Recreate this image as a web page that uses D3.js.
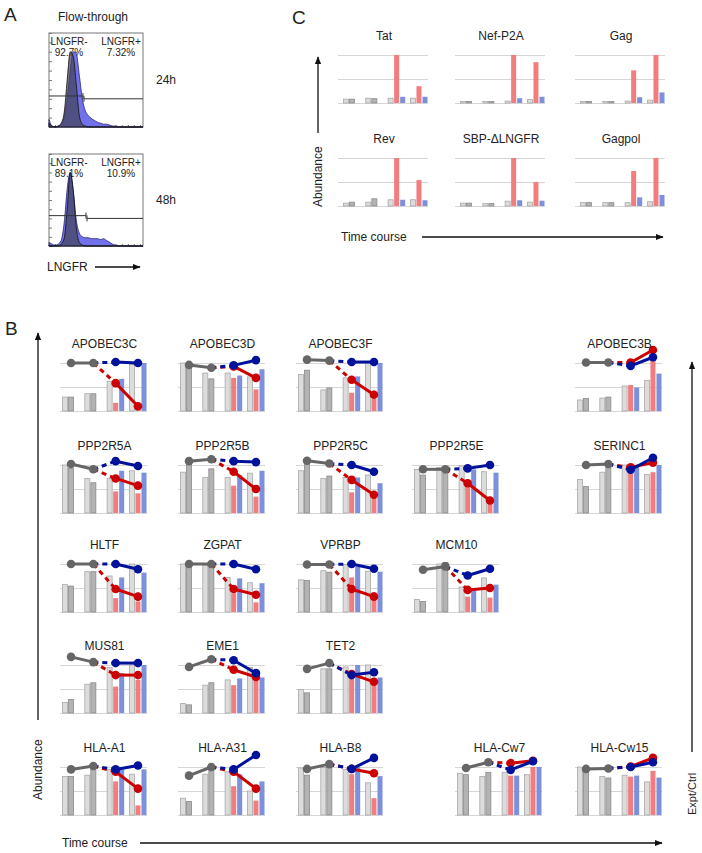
<!DOCTYPE html>
<html>
<head>
<meta charset="utf-8">
<script src="https://d3js.org/d3.v7.min.js"></script>
<style>
  body { margin: 0; background: #fff; }
  svg text { font-family: Arial, "Liberation Sans", sans-serif; fill: #222; }
</style>
</head>
<body>
<svg id="fig" width="702" height="853"></svg>
<script>
// ---------- panel A: flow histograms (relative counts per bin) ----------
const gray24 = [0.04,0.01,0,0.01,0.04,0.15,0.5,0.8,0.75,0.45,0.12,0.03,0.01,0,0,0,0,0,0,0,0,0,0,0,0,0,0,0,0,0,0,0];
const blue24 = [0.08,0.01,0,0.01,0.03,0.1,0.3,0.6,0.8,0.78,0.55,0.3,0.17,0.12,0.09,0.07,0.05,0.04,0.03,0.03,0.02,0.01,0.01,0,0,0,0,0,0,0,0,0];
const gray48 = [0.01,0,0,0,0.02,0.08,0.4,0.8,0.6,0.2,0.04,0.01,0,0,0,0,0,0,0,0,0,0,0,0,0,0,0,0,0,0,0,0];
const blue48 = [0.04,0.02,0.01,0.02,0.06,0.25,0.62,0.8,0.6,0.28,0.14,0.1,0.09,0.09,0.08,0.08,0.08,0.07,0.08,0.06,0.04,0.02,0.01,0,0,0,0,0,0,0,0,0];
const gates = [11.2, 12.2];          // gate boundary, in bin units
const timeLabels = ["24h", "48h"];
const negPct = ["92.7%", "89.1%"];
const posPct = ["7.32%", "10.9%"];

// ---------- panel C: viral proteins ----------
const cGenes = ["Tat", "Nef-P2A", "Gag", "Rev", "SBP-\u0394LNGFR", "Gagpol"];
// time points 1,2: [light, dark, light, dark]
const cCtrl = [
  [0.08,0.08,0.1,0.09],
  [0.03,0.03,0.03,0.03],
  [0.03,0.03,0.03,0.03],
  [0.06,0.08,0.08,0.15],
  [0.06,0.06,0.05,0.05],
  [0.07,0.07,0.07,0.07]
];
// time points 3,4: [light, red, blue, light, red, blue]
const cExp = [
  [0.1,1.0,0.13, 0.1,0.35,0.13],
  [0.04,1.0,0.1, 0.07,0.85,0.13],
  [0.04,0.68,0.12, 0.06,1.0,0.22],
  [0.13,1.0,0.13, 0.13,0.54,0.12],
  [0.1,1.0,0.12, 0.08,0.5,0.11],
  [0.07,0.73,0.18, 0.09,1.0,0.23]
];

// ---------- panel B: host proteins ----------
const bGenes = ["APOBEC3C","APOBEC3D","APOBEC3F","APOBEC3B",
  "PPP2R5A","PPP2R5B","PPP2R5C","PPP2R5E","SERINC1",
  "HLTF","ZGPAT","VPRBP","MCM10",
  "MUS81","EME1","TET2",
  "HLA-A1","HLA-A31","HLA-B8","HLA-Cw7","HLA-Cw15"];
const bCtrl = [
  [0.29,0.29,0.36,0.36],[1.0,0.95,0.79,0.67],[0.76,0.85,0.44,0.48],[0.23,0.26,0.27,0.29],
  [1.0,0.93,0.72,0.63],[0.85,1.08,0.74,0.92],[0.88,1.03,0.72,0.77],[0.91,0.79,0.95,0.83],[0.7,0.55,0.85,0.95],
  [0.57,0.54,0.84,0.84],[1.0,1.0,0.98,0.93],[0.67,0.66,0.86,0.83],[0.26,0.22,1.0,1.03],
  [0.22,0.28,0.6,0.63],[0.2,0.17,0.58,0.63],[0.49,0.42,0.92,0.92],
  [0.8,0.8,0.83,1.0],[0.35,0.28,0.85,1.0],[0.98,0.83,0.99,0.99],[0.87,0.84,0.8,0.89],[1.0,0.98,0.8,0.77]
];
const bExp = [
  [0.62,0.17,0.67, 0.97,0.08,1.0],[0.79,0.69,0.74, 0.71,0.45,0.87],[0.69,0.38,0.72, 1.0,0.25,1.0],[0.52,0.54,0.49, 0.64,1.1,0.78],
  [0.72,0.45,0.88, 0.88,0.41,0.84],[0.74,0.57,0.79, 0.83,0.34,0.88],[0.74,0.43,0.74, 0.79,0.31,0.62],[0.98,0.66,0.91, 0.86,0.21,0.84],[1.0,1.0,1.0, 0.8,0.85,1.0],
  [0.75,0.29,0.72, 1.0,0.22,0.82],[0.72,0.39,0.7, 0.61,0.2,0.6],[0.99,0.72,0.94, 0.85,0.41,0.84],[0.52,0.32,0.45, 0.71,0.3,0.57],
  [0.95,0.55,0.83, 1.0,0.69,1.0],[0.69,0.58,0.72, 0.95,0.72,0.74],[0.96,0.77,1.0, 1.0,0.64,0.74],
  [0.95,0.7,0.95, 0.85,0.2,0.95],[0.9,0.6,0.85, 0.5,0.3,0.7],[0.95,0.85,1.0, 0.67,0.35,0.81],[0.89,0.82,0.82, 0.84,1.0,1.0],[0.83,0.8,0.82, 0.69,0.92,0.78]
];
// Expt/Ctrl ratios
const bRatioGray = [[1.0,1.0],[0.96,0.9],[1.07,1.05],[1.01,1.01],[1.02,0.91],[1.08,1.12],[1.09,1.03],[0.91,0.91],[1.0,1.02],
  [1.0,1.0],[1.0,1.0],[0.99,0.99],[0.88,0.95],[1.17,1.06],[0.96,1.12],[0.92,1.04],[0.95,1.02],[0.82,1.0],[0.96,1.06],[0.98,1.1],[0.96,0.97]];
const bRatioRed = [[0.58,0.1],[0.93,0.69],[0.65,0.34],[1.01,1.27],[0.72,0.57],[0.86,0.5],[0.69,0.38],[0.62,0.26],[0.95,1.05],
  [0.48,0.32],[0.48,0.36],[0.48,0.32],[0.46,0.5],[0.79,0.79],[0.9,0.75],[0.81,0.65],[0.9,0.55],[0.9,0.55],[0.96,0.87],[1.08,1.13],[1.01,1.19]];
const bRatioBlue = [[1.02,1.0],[0.95,1.06],[1.02,1.02],[0.94,1.12],[1.08,0.98],[1.08,1.06],[1.0,0.86],[0.93,1.0],[0.9,1.15],
  [1.0,0.89],[1.0,0.89],[1.0,0.9],[0.76,0.9],[1.04,1.04],[1.1,0.83],[0.79,0.85],[0.95,1.03],[0.95,1.25],[0.96,1.19],[0.94,1.12],[1.0,1.1]];

// ---------- layout ----------
const bRowTop = [363, 465, 564, 665, 767];
const bSlots = [[0,62],[0,180],[0,298],[0,577],
  [1,62],[1,180],[1,298],[1,414],[1,577],
  [2,62],[2,180],[2,298],[2,414],
  [3,62],[3,180],[3,298],
  [4,62],[4,180],[4,298],[4,457],[4,577]];
const cSlots = [[55,340],[55,457],[55,577],[158,340],[158,457],[158,577]];

const col = {light:"#dcdcdc", lightS:"#a8a8a8", dark:"#b3b3b3", darkS:"#8a8a8a",
  red:"#f27d7f", blue:"#7d90dc", lineGray:"#666666", lineRed:"#cc0000", lineBlue:"#00119a", grid:"#d6d6d6"};

const svg = d3.select("#fig");
const defs = svg.append("defs");
defs.append("marker").attr("id","arr").attr("viewBox","0 0 10 10")
  .attr("refX",9).attr("refY",5).attr("markerWidth",6).attr("markerHeight",6)
  .attr("orient","auto").append("path").attr("d","M0,1L10,5L0,9z").attr("fill","#111");

function arrow(x1,y1,x2,y2){
  svg.append("line").attr("x1",x1).attr("y1",y1).attr("x2",x2).attr("y2",y2)
    .attr("stroke","#111").attr("stroke-width",1.3).attr("marker-end","url(#arr)");
}
function label(x,y,t,size,anchor,rot){
  const e = svg.append("text").attr("font-size",size).attr("text-anchor",anchor||"start").text(t);
  if(rot) e.attr("transform",`translate(${x},${y}) rotate(${rot})`);
  else e.attr("x",x).attr("y",y);
  return e;
}

// panel letters
label(4,21,"A",19);
label(5,335,"B",19);
label(292,24,"C",19);

// ---------- panel A ----------
label(93,21,"Flow-through",12,"middle");
const hx = d3.scaleLinear().domain([0, gray24.length-1]).range([49,143]);
[[gray24,blue24,33,127],[gray48,blue48,154,246]].forEach(([gd,bd,top,bot],k)=>{
  const hy = d3.scaleLinear().domain([0,1]).range([bot,top]);
  const g = svg.append("g");
  g.append("rect").attr("x",49).attr("y",top).attr("width",94).attr("height",bot-top)
    .attr("fill","#fff").attr("stroke","#777");
  // ticks
  const yAx = d3.axisLeft(hy).ticks(8).tickSize(-3).tickFormat("");
  g.append("g").attr("transform","translate(49,0)").call(yAx).call(s=>s.select(".domain").remove())
    .selectAll("line").attr("stroke","#777");
  const xAx = d3.axisBottom(hx).ticks(12).tickSize(-2).tickFormat("");
  g.append("g").attr("transform",`translate(0,${bot})`).call(xAx).call(s=>s.select(".domain").remove())
    .selectAll("line").attr("stroke","#777");
  // labels behind histograms
  g.append("text").attr("x",69).attr("y",top+12).attr("font-size",10).attr("text-anchor","middle").text("LNGFR-");
  g.append("text").attr("x",69).attr("y",top+23).attr("font-size",10).attr("text-anchor","middle").text(negPct[k]);
  g.append("text").attr("x",121).attr("y",top+12).attr("font-size",10).attr("text-anchor","middle").text("LNGFR+");
  g.append("text").attr("x",121).attr("y",top+23).attr("font-size",10).attr("text-anchor","middle").text(posPct[k]);
  const area = d3.area().x((d,i)=>hx(i)).y0(bot).y1(d=>hy(d)).curve(d3.curveMonotoneX);
  g.append("path").datum(bd).attr("d",area).attr("fill","#6262ea").attr("fill-opacity",0.9)
    .attr("stroke","#2a2a70").attr("stroke-width",0.8);
  g.append("path").datum(gd).attr("d",area).attr("fill","#44445a").attr("fill-opacity",0.72)
    .attr("stroke","#111").attr("stroke-width",0.8);
  // gates
  const gx = hx(gates[k]);
  const ly = hy(0.33), ry = hy(0.3);
  g.append("line").attr("x1",49).attr("x2",gx).attr("y1",ly).attr("y2",ly).attr("stroke","#333");
  g.append("line").attr("x1",gx).attr("x2",gx).attr("y1",ly-3).attr("y2",ly+3).attr("stroke","#333");
  g.append("line").attr("x1",gx+1).attr("x2",143).attr("y1",ry).attr("y2",ry).attr("stroke","#333");
  g.append("line").attr("x1",gx+1).attr("x2",gx+1).attr("y1",ry-3).attr("y2",ry+3).attr("stroke","#333");
  label(166,(top+bot)/2+4,timeLabels[k],12,"middle");
});
label(47,271,"LNGFR",12);
arrow(95,267,140,267);

// ---------- generic mini bar chart ----------
function miniChart(x0, top, w, ctrl, exp, ratios){
  const h = 48;
  const g = svg.append("g");
  const y = d3.scaleLinear().domain([0,1]).range([top+h, top]);
  const xg = d3.scaleBand().domain([0,1,2,3]).range([x0+w-85, x0+w]).paddingInner(0.19);
  const xs = d3.scaleBand().domain([0,1,2]).range([0, xg.bandwidth()]);
  // grid
  const grid = d3.axisLeft(y).tickValues([0,0.5,1]).tickSize(-(w+2)).tickFormat("");
  g.append("g").attr("transform",`translate(${x0-2},0)`).call(grid)
    .call(s=>s.select(".domain").remove())
    .selectAll("line").attr("stroke",col.grid);
  const bars = [];
  ctrl.forEach((v,i)=>bars.push({grp:Math.floor(i/2), s:i%2, v, k:i%2?"dark":"light"}));
  exp.forEach((v,i)=>bars.push({grp:2+Math.floor(i/3), s:i%3, v, k:["light","red","blue"][i%3]}));
  g.selectAll("rect.bar").data(bars).join("rect").attr("class","bar")
    .attr("x",d=>xg(d.grp)+xs(d.s)+0.5).attr("width",xs.bandwidth()-1)
    .attr("y",d=>y(d.v)).attr("height",d=>y(0)-y(d.v))
    .attr("fill",d=>col[d.k])
    .attr("stroke",d=>d.k==="light"?col.lightS:d.k==="dark"?col.darkS:"none")
    .attr("stroke-width",0.8);
  if(ratios){
    const cx = i=>xg(i)+xg.bandwidth()/2;
    const [rg, rr, rb] = ratios;
    const seg = (pts,color,dash)=>g.append("path")
      .attr("d",d3.line().x(d=>d[0]).y(d=>d[1])(pts))
      .attr("fill","none").attr("stroke",color).attr("stroke-width",3)
      .attr("stroke-dasharray",dash||null);
    seg([[cx(1),y(rg[1])],[cx(2),y(rr[0])]], col.lineRed, "5,4");
    seg([[cx(1),y(rg[1])],[cx(2),y(rb[0])]], col.lineBlue, "5,4");
    const series = [[rr,col.lineRed,2],[rb,col.lineBlue,2],[rg,col.lineGray,0]];
    series.forEach(([vals,color,off])=>{
      const pts = vals.map((v,i)=>[cx(off+i), y(v)]);
      seg(pts,color);
      g.selectAll(null).data(pts).join("circle").attr("cx",d=>d[0]).attr("cy",d=>d[1])
        .attr("r",4.3).attr("fill",color);
    });
  }
  return g;
}

// ---------- panel C ----------
cGenes.forEach((name,i)=>{
  const [top,x0] = cSlots[i];
  miniChart(x0, top, 88, cCtrl[i], cExp[i], null);
  label(x0+44, top-15, name, 12, "middle");
});
arrow(318,133,318,57);
label(322,207,"Abundance",12,"start",-90);
label(341,241,"Time course",12);
arrow(422,237,663,237);

// ---------- panel B ----------
bGenes.forEach((name,i)=>{
  const [r,x0] = bSlots[i];
  const top = bRowTop[r];
  miniChart(x0, top, 85, bCtrl[i], bExp[i], [bRatioGray[i], bRatioRed[i], bRatioBlue[i]]);
  label(x0+42.5, top-15, name, 12, "middle");
});
arrow(38,720,38,333);
label(42,800,"Abundance",12,"start",-90);
label(62,847,"Time course",12);
arrow(140,843,662,843);
arrow(692,752,692,362);
label(696,815,"Expt/Ctrl",11,"start",-90);
</script>
</body>
</html>
